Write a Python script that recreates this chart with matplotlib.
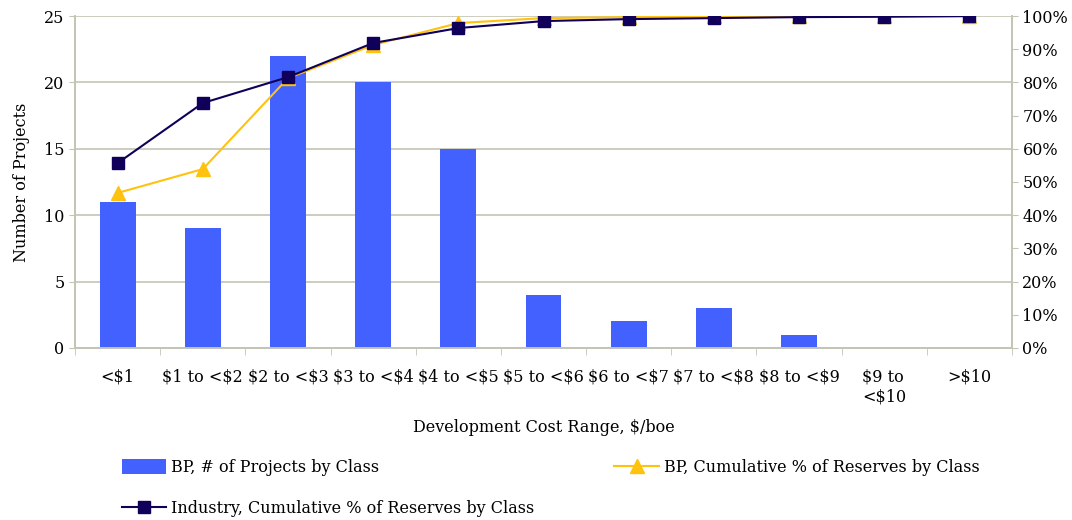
import numpy as np
import matplotlib
matplotlib.use("Agg")
import matplotlib.pyplot as plt
from matplotlib.ticker import PercentFormatter

plt.rcParams['font.family'] = ['DejaVu Serif']

# data
categories = ["<\\$1", "\\$1 to <\\$2", "\\$2 to <\\$3", "\\$3 to <\\$4", "\\$4 to <\\$5",
              "\\$5 to <\\$6", "\\$6 to <\\$7", "\\$7 to <\\$8", "\\$8 to <\\$9",
              "\\$9 to\n<\\$10", ">\\$10"]
bp_projects = [11, 9, 22, 20, 15, 4, 2, 3, 1, 0, 0]
bp_cum_pct = [46.7, 53.9, 81.3, 91.3, 97.9, 99.4, 99.7, 100, 100, 100, 100]
ind_cum_pct = [55.7, 73.8, 81.6, 91.9, 96.4, 98.5, 99.1, 99.4, 99.7, 99.8, 100]

grid_col = "#c4c4b4"
fs = 11.5
x = np.arange(len(categories))

fig = plt.figure(figsize=(10.72, 5.2), dpi=100)
ax = fig.add_axes([0.07, 0.331, 0.874, 0.638])
ax2 = ax.twinx()

bars = ax.bar(x, bp_projects, width=0.42, color="#4361FE", zorder=2,
              label="BP, # of Projects by Class")
l1, = ax2.plot(x, bp_cum_pct, color="#FFC20E", marker="^", markersize=10, lw=1.5,
               label="BP, Cumulative % of Reserves by Class")
l2, = ax2.plot(x, ind_cum_pct, color="#10005A", marker="s", markersize=9, lw=1.5,
               label="Industry, Cumulative % of Reserves by Class")

ax.set_xlim(-0.5, len(categories) - 0.5)
ax.set_ylim(0, 25)
ax.set_yticks(range(0, 26, 5))
ax2.set_ylim(0, 100)
ax2.set_yticks(range(0, 101, 10))
ax2.yaxis.set_major_formatter(PercentFormatter(decimals=0))

ax.yaxis.grid(True, color=grid_col, lw=1.2, zorder=0)
ax.set_axisbelow(True)

ax.set_xticks(x)
ax.set_xticklabels(categories, fontsize=fs, multialignment="left")
ax.set_xticks(np.arange(-0.5, len(categories)), minor=True)
ax.tick_params(axis="x", which="major", length=0, pad=15)
ax.tick_params(axis="x", which="minor", length=5, color=grid_col)
ax.tick_params(axis="y", labelsize=fs, length=4, color=grid_col)
ax2.tick_params(axis="y", labelsize=fs, length=4, color=grid_col)

for a in (ax, ax2):
    a.spines["top"].set_visible(False)
    for s in ("left", "right", "bottom"):
        a.spines[s].set_color(grid_col)
        a.spines[s].set_linewidth(1.2)

ax.set_ylabel("Number of Projects", fontsize=fs, labelpad=10)
ax.set_xlabel("Development Cost Range, \\$/boe", fontsize=fs, labelpad=10)

fig.legend(handles=[bars, l2, l1], loc="upper left", bbox_to_anchor=(0.1, 0.145),
           ncol=2, frameon=False, fontsize=fs, columnspacing=5.0,
           handlelength=2.8, handleheight=1.1, labelspacing=1.5, handletextpad=0.3)

fig.savefig("out.png", dpi=100)
